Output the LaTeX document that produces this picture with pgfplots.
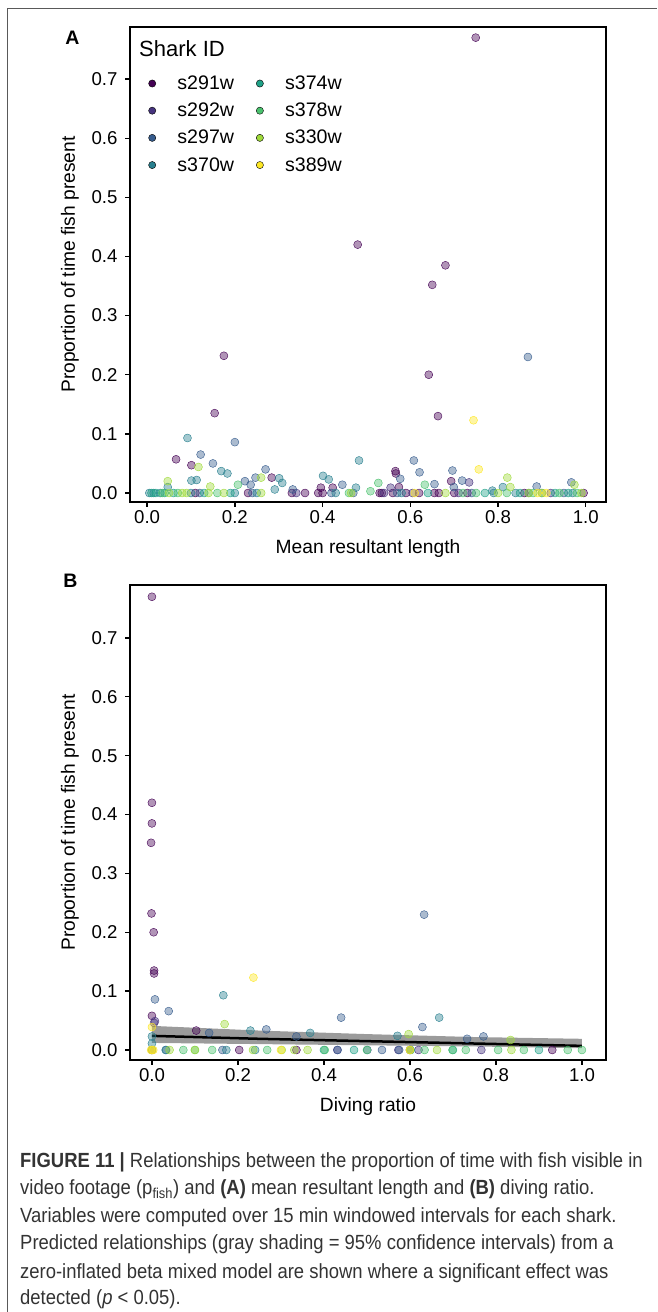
\documentclass[border=0pt]{standalone}
\usepackage{pgfplots}
\pgfplotsset{compat=1.18}
\usepackage{fontspec}
\setmainfont{Liberation Sans}
\newfontfamily\capfont[FakeStretch=0.9]{Liberation Sans}
\definecolor{c291}{HTML}{440154}
\definecolor{c292}{HTML}{46337E}
\definecolor{c297}{HTML}{365C8D}
\definecolor{c370}{HTML}{277F8E}
\definecolor{c374}{HTML}{1FA187}
\definecolor{c378}{HTML}{4AC16D}
\definecolor{c330}{HTML}{9FDA3A}
\definecolor{c389}{HTML}{FDE725}
\definecolor{bandgray}{RGB}{138,138,138}
\pgfplotsset{
  myax/.style={
    scale only axis, width=476pt, height=475pt, anchor=south west,
    axis line style={line width=1.8pt},
    tick style={black, line width=1.3pt},
    major tick length=5pt, tick align=outside,
    xtick pos=left, ytick pos=left,
    xtick={0,0.2,0.4,0.6,0.8,1}, xticklabels={0.0,0.2,0.4,0.6,0.8,1.0},
    ytick={0,0.1,0.2,0.3,0.4,0.5,0.6,0.7}, yticklabels={0.0,0.1,0.2,0.3,0.4,0.5,0.6,0.7},
    tick label style={font=\fontsize{18.6}{20}\selectfont},
    yticklabel style={xshift=-4pt},
    label style={font=\fontsize{19.2}{21}\selectfont},
    xlabel style={at={(axis description cs:0.5,-0.099)}, anchor=center},
    ylabel style={at={(axis description cs:-0.126,0.5)}, anchor=center},
    clip=false,
  },
  pts/.style={only marks, mark=*, mark size=4pt, color=#1, mark options={draw=none, fill=#1, fill opacity=0.42}},
}
\begin{document}
\begin{tikzpicture}
\path[use as bounding box] (0pt,0pt) rectangle (657pt,1312pt);
\draw[black!65, line width=0.8pt] (7.5pt,0pt) -- (7.5pt,1304pt) -- (657pt,1304pt);
% ---------------- Panel A ----------------
\begin{axis}[myax, at={(130pt,810pt)},
  xmin=-0.039, xmax=1.046, ymin=-0.0152, ymax=0.788,
  xlabel={Mean resultant length}, ylabel={Proportion of time fish present},
  legend columns=2, legend cell align=left,
  legend image code/.code={\fill[#1] (0pt,0pt) circle (3.6pt);},
  legend style={at={(0.0387,0.897)}, anchor=north west, draw=none, fill=none,
    inner sep=0pt, outer sep=0pt,
    font=\fontsize{19.6}{21}\selectfont, row sep=12pt,
    nodes={inner sep=0pt},
    /tikz/every odd column/.append style={column sep=21.4pt},
    /tikz/every even column/.append style={column sep=22pt}},
]
\addlegendimage{fill=c291}\addlegendentry{s291w}
\addlegendimage{fill=c374}\addlegendentry{s374w}
\addlegendimage{fill=c292}\addlegendentry{s292w}
\addlegendimage{fill=c378}\addlegendentry{s378w}
\addlegendimage{fill=c297}\addlegendentry{s297w}
\addlegendimage{fill=c330}\addlegendentry{s330w}
\addlegendimage{fill=c370}\addlegendentry{s370w}
\addlegendimage{fill=c389}\addlegendentry{s389w}
\addplot[pts=c291, forget plot] coordinates {
(0.749,0.77)(0.48,0.42)(0.68,0.385)(0.65,0.352)(0.175,0.232)(0.642,0.2)(0.154,0.135)(0.663,0.13)
(0.066,0.057)(0.101,0.047)(0.284,0.026)(0.423,0.009)(0.396,0.009)(0.566,0.037)(0.567,0.033)(0.574,0.010)(0.693,0.020)
(0.33,0)(0.36,0)(0.39,0)(0.40,0)(0.53,0)(0.535,0)(0.56,0)(0.59,0)(0.62,0)(0.655,0)(0.665,0)(0.70,0)(0.73,0)(0.86,0)(0.995,0)(0.23,0)(0.11,0)};
\addplot[pts=c292, forget plot] coordinates {
(0.734,0.018)(0.555,0.009)(0.34,0)(0.54,0)(0.605,0)(0.71,0)(0.92,0)};
\addplot[pts=c297, forget plot] coordinates {
(0.868,0.23)(0.122,0.065)(0.15,0.05)(0.2,0.086)(0.223,0.02)(0.236,0.014)(0.247,0.026)(0.27,0.04)(0.332,0.006)
(0.445,0.014)(0.577,0.024)(0.608,0.055)(0.621,0.035)(0.655,0.015)(0.696,0.038)(0.699,0.01)(0.718,0.021)(0.888,0.011)(0.967,0.018)
(0.12,0)(0.24,0)(0.42,0)(0.47,0)(0.57,0)(0.74,0)(0.87,0)(0.95,0)};
\addplot[pts=c370, forget plot] coordinates {
(0.092,0.093)(0.101,0.021)(0.113,0.022)(0.169,0.037)(0.183,0.033)(0.301,0.025)(0.308,0.017)(0.291,0.006)
(0.401,0.029)(0.414,0.023)(0.476,0.009)(0.483,0.055)(0.047,0.01)(0.787,0.004)(0.811,0.010)
(0.005,0)(0.015,0)(0.03,0)(0.1,0)(0.2,0)(0.25,0)(0.43,0)(0.58,0)(0.79,0)(0.84,0)(0.9,0)(0.97,0)};
\addplot[pts=c374, forget plot] coordinates {
(0.01,0)(0.02,0)(0.04,0)(0.06,0)(0.13,0)(0.19,0)(0.64,0)(0.77,0)(0.85,0)(0.93,0)(0.96,0)};
\addplot[pts=c378, forget plot] coordinates {
(0.527,0.017)(0.509,0.003)(0.633,0.014)(0.207,0.014)
(0.035,0)(0.07,0)(0.16,0)(0.46,0)(0.72,0)(0.75,0)(0.82,0)(0.88,0)(0.94,0)(0.98,0)};
\addplot[pts=c330, forget plot] coordinates {
(0.117,0.044)(0.047,0.020)(0.144,0.011)(0.26,0.026)(0.821,0.026)(0.828,0.010)(0.974,0.014)
(0.05,0)(0.08,0)(0.09,0)(0.14,0)(0.175,0)(0.26,0)(0.465,0)(0.68,0)(0.8,0)(0.87,0)(0.9,0)(0.99,0)};
\addplot[pts=c389, forget plot] coordinates {
(0.744,0.123)(0.756,0.040)(0.61,0)(0.89,0)(0.91,0)};
\end{axis}
\node[anchor=west, inner sep=0pt, font=\fontsize{22}{24}\selectfont] at (139pt,1263pt) {Shark ID};
\node[inner sep=0pt, font=\bfseries\fontsize{19.5}{21}\selectfont] at (72.5pt,1274pt) {A};
% ---------------- Panel B ----------------
\begin{axis}[myax, at={(130pt,252pt)},
  xmin=-0.051, xmax=1.056, ymin=-0.017, ymax=0.79,
  xlabel={Diving ratio}, ylabel={Proportion of time fish present},
]
\addplot[pts=c291] coordinates {
(0,0.77)(0,0.42)(0,0.385)(-0.002,0.352)(-0.001,0.232)(0.004,0.2)(0.005,0.135)(0.005,0.13)(0,0.058)(0.103,0.033)
(0,0)(0.203,0)(0.336,0)(0.931,0)(0.6,0)};
\addplot[pts=c292] coordinates {
(0.007,0.049)(0.005,0.046)(0.431,0)(0.573,0)(0.766,0)(0.62,0)};
\addplot[pts=c297] coordinates {
(0.633,0.23)(0.007,0.086)(0.039,0.066)(0.44,0.055)(0.266,0.035)(0.336,0.023)(0.629,0.039)(0.733,0.019)(0.771,0.023)(0.133,0.029)
(0.164,0)(0.432,0)(0.501,0)(0.535,0)(0.575,0)(0.033,0)};
\addplot[pts=c370] coordinates {
(0.166,0.093)(0.229,0.033)(0.368,0.029)(0.571,0.024)(0.668,0.055)(0,0.023)(0,0.011)
(0.032,0)(0.173,0)(0.24,0)(0,0)};
\addplot[pts=c374] coordinates {
(0.47,0)(0.602,0)(0.7,0)(0.9,0)(0.4,0)};
\addplot[pts=c378] coordinates {
(0.073,0)(0.1,0)(0.14,0)(0.268,0)(0.402,0)(0.634,0)(0.699,0)(0.73,0)(0.805,0)(0.865,0)(0.967,0)(1.0,0)(0.5,0)};
\addplot[pts=c330] coordinates {
(0.169,0.044)(0.597,0.027)(0.834,0.017)
(0.041,0)(0.1,0)(0.235,0)(0.302,0)(0.331,0)(0.362,0)(0.663,0)(0.836,0)(0.6,0)};
\addplot[pts=c389] coordinates {
(0.236,0.123)(0,0.039)(0,0)(0.003,0)(-0.002,0)(0.3,0)(0.6,0)};
\addplot[fill=bandgray, fill opacity=0.85, draw=none] coordinates {
(0,0.041)(0.25,0.033)(0.5,0.027)(0.75,0.022)(1,0.019)
(1,0.003)(0.75,0.006)(0.5,0.008)(0.25,0.010)(0,0.012)} -- cycle;
\addplot[black, line width=2.5pt] coordinates {
(0,0.024)(0.25,0.019)(0.5,0.015)(0.75,0.011)(1,0.007)};
\end{axis}
\node[inner sep=0pt, font=\bfseries\fontsize{19.5}{21}\selectfont] at (70.5pt,731pt) {B};
% ---------------- Caption ----------------
\begin{scope}[every node/.style={anchor=base west, inner sep=0pt, font=\capfont\fontsize{20.5}{23}\selectfont, text=black!80}]
\node at (20pt,144pt) {\textbf{FIGURE 11 |} Relationships between the proportion of time with fish visible in};
\node at (20pt,117pt) {video footage (p\textsubscript{fish}) and \textbf{(A)} mean resultant length and \textbf{(B)} diving ratio.};
\node at (20pt,89pt) {Variables were computed over 15 min windowed intervals for each shark.};
\node at (20pt,62pt) {Predicted relationships (gray shading = 95\% confidence intervals) from a};
\node at (20pt,34pt) {zero-inflated beta mixed model are shown where a significant effect was};
\node at (20pt,7pt) {detected (\textit{p} < 0.05).};
\end{scope}
\end{tikzpicture}
\end{document}
